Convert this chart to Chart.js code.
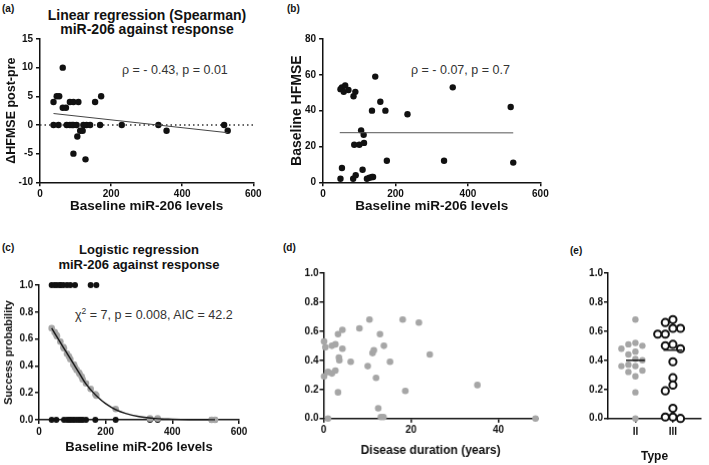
<!DOCTYPE html>
<html>
<head>
<meta charset="utf-8">
<script src="https://cdn.jsdelivr.net/npm/chart.js@4.4.1/dist/chart.umd.min.js"></script>
<style>
  body { margin: 0; width: 709px; height: 465px; background: #fff; position: relative; overflow: hidden;
         font-family: "Liberation Sans", Arial, Helvetica, sans-serif; color: #111; }
  .box { position: absolute; }
  .tag { position: absolute; font-size: 10px; font-weight: bold; line-height: 12px; }
  .ttl { position: absolute; font-weight: bold; text-align: center; white-space: nowrap; transform: translateX(-50%); }
  .note { position: absolute; font-size: 12.5px; line-height: 14px; color: #333; white-space: nowrap; }
  .note sup { font-size: 8.5px; line-height: 0; vertical-align: 5px; }
</style>
</head>
<body>
<div class="tag" style="left:2px;top:3px">(a)</div>
<div class="tag" style="left:287px;top:3px">(b)</div>
<div class="tag" style="left:2px;top:242px">(c)</div>
<div class="tag" style="left:283px;top:242px">(d)</div>
<div class="tag" style="left:570px;top:245px">(e)</div>

<div class="ttl" style="left:147px;top:8px;font-size:14px;line-height:14.3px">Linear regression (Spearman)<br>miR-206 against response</div>
<div class="ttl" style="left:139px;top:243px;font-size:13px;line-height:14.5px">Logistic regression<br>miR-206 against response</div>

<div class="note" style="left:122px;top:63px">ρ = - 0.43, p = 0.01</div>
<div class="note" style="left:411px;top:63px">ρ = - 0.07, p = 0.7</div>
<div class="note" style="left:75px;top:308px">χ<sup>2</sup> = 7, p = 0.008, AIC = 42.2</div>

<div class="box" style="left:0px;top:29px;width:266px;height:187.3px"><canvas id="chartA"></canvas></div>
<div class="box" style="left:284.6px;top:29px;width:267.4px;height:187.3px"><canvas id="chartB"></canvas></div>
<div class="box" style="left:0px;top:275px;width:251px;height:180.8px"><canvas id="chartC"></canvas></div>
<div class="box" style="left:295px;top:263.3px;width:249.7px;height:195.9px"><canvas id="chartD"></canvas></div>
<div class="box" style="left:580px;top:263.3px;width:127px;height:200.9px"><canvas id="chartE"></canvas></div>

<script>
// (a) baseline miR-206 vs change in HFMSE, one entry per patient
const A_X = [38, 47, 54, 64, 64, 73, 84, 94, 108, 155, 172,
             38, 52, 75, 84, 90, 94, 103, 122, 131, 141, 169, 230, 333, 518,
             113, 120, 105, 94, 128, 356, 528];
const A_Y = [4, 5, 5, 10, 3, 3, 4, 4, 4, 4, 5,
             0, 0, 0, 0, 0, 0, 0, 0, 0, 0, 0, 0, 0, 0,
             -1, -1, -2, -5, -6, -1, -1];
const A_FIT_X = [38, 528];
const A_FIT_Y = [2.0, -1.35];

// (b) baseline miR-206 vs baseline HFMSE
const B_X = [48, 52, 57, 61, 70, 84, 89, 144, 158, 135, 172, 233, 358, 518,
             105, 112, 86, 100, 113, 176, 334, 525,
             48, 52, 83, 90, 109, 121, 128, 135, 138];
const B_Y = [52, 53, 50.5, 54, 51.5, 48, 50.5, 59, 45, 40, 40, 38, 53, 42,
             29, 26.5, 21, 21, 22, 12, 12, 11,
             2, 8, 2, 4, 7, 2, 2.5, 3, 3];
const B_FIT_X = [46, 525];
const B_FIT_Y = [27.7, 27.6];

// (c) logistic fit: predicted probability per patient, and the fitted curve
const C_FIT_X = [38, 47, 52, 54, 64, 73, 75, 84, 90, 94, 103, 105, 108, 113, 120, 122,
                 128, 131, 141, 155, 169, 172, 230, 333, 356, 518, 528];
const C_FIT_Y = [0.68, 0.65, 0.63, 0.62, 0.58, 0.54, 0.53, 0.49, 0.47, 0.45, 0.41, 0.41,
                 0.39, 0.37, 0.35, 0.34, 0.32, 0.30, 0.27, 0.23, 0.19, 0.18, 0.08, 0.01, 0.01, 0.0, 0.0];
const CURVE_X = [38, 60, 80, 100, 120, 140, 160, 180, 200, 230, 260, 300, 350, 400, 450, 528];
const CURVE_Y = [0.68, 0.59, 0.51, 0.43, 0.35, 0.27, 0.21, 0.16, 0.12, 0.075, 0.047, 0.024, 0.01, 0.005, 0.002, 0.001];

// (d) disease duration vs success probability
const D_X = [0.1, 0.4, 0.1, 1.0, 1.0, 1.9, 1.9, 2.7, 2.7, 3.3, 3.3, 3.5, 3.6, 4.3, 4.3, 6.2, 8.2,
             10.1, 10.5, 11.2, 11.5, 12.0, 12.5, 12.9, 13.1, 13.7, 13.8, 15.2, 18.1, 18.7, 21.8, 24.3, 35.2, 48.5];
const D_Y = [0.53, 0.49, 0.29, 0.32, 0.0, 0.50, 0.31, 0.51, 0.33, 0.58, 0.18, 0.42, 0.40, 0.61, 0.48, 0.39, 0.62,
             0.36, 0.68, 0.45, 0.47, 0.28, 0.07, 0.58, 0.01, 0.01, 0.50, 0.39, 0.68, 0.19, 0.66, 0.44, 0.23, 0.0];

// (e) success probability by SMA type
const TYPES = ["II", "III"];
const TYPE_II = [0.68, 0.52, 0.51, 0.50, 0.48, 0.46, 0.44, 0.41, 0.40, 0.37, 0.36, 0.36, 0.33, 0.32, 0.29, 0.18, 0.0];
const TYPE_III = [0.68, 0.66, 0.62, 0.62, 0.58, 0.58, 0.51, 0.50, 0.48, 0.39, 0.28, 0.23, 0.19, 0.07, 0.01, 0.01, 0.0];
const MEDIANS = [0.40, 0.47];

const X_TICKS_MIR = [0, 200, 400, 600];
const Y_TICKS_A = [-10, -5, 0, 5, 10, 15];
const Y_TICKS_B = [0, 20, 40, 60, 80];
const P_TICKS = [0, 0.2, 0.4, 0.6, 0.8, 1.0];
const X_TICKS_D = [0, 20, 40];

const INK = "#111";
const GREY = "#a6a6a6";

Chart.defaults.font.family = '"Liberation Sans", Arial, Helvetica, sans-serif';
Chart.defaults.color = INK;
Chart.defaults.animation = false;
Chart.defaults.plugins.legend.display = false;
Chart.defaults.plugins.tooltip.enabled = false;

const pts = (xs, ys) => xs.map((x, i) => ({ x, y: ys[i] }));

// Prism-like axis: only the axis line and outward tick marks, bold labels.
// `size` pins the axis box so the plot area lands where the figure has it.
function axis(o) {
  return {
    type: "linear",
    min: o.min,
    max: o.max,
    afterFit: (s) => { if (s.isHorizontal()) s.height = o.size; else s.width = o.size; },
    afterBuildTicks: (s) => { s.ticks = o.ticks.map((v) => ({ value: v })); },
    grid: { display: true, drawOnChartArea: false, drawTicks: true, tickLength: 4, tickWidth: 1.5, color: INK, lineWidth: 1.5 },
    border: { display: true, color: INK, width: 1.5 },
    ticks: { color: INK, font: { size: 10, weight: "bold" }, padding: o.pad, maxRotation: 0, autoSkip: false,
             callback: o.fmt || ((v) => String(v)) },
    title: o.title
      ? { display: true, text: o.title, color: INK, font: { size: o.titleSize, weight: "bold" }, padding: o.titlePad }
      : { display: false },
  };
}

function dots(data, fill, r, extra) {
  return Object.assign({ data, pointRadius: r, pointBackgroundColor: fill, pointBorderWidth: 0, clip: false }, extra || {});
}

function line(data, color, width, dash) {
  return { data, showLine: true, pointRadius: 0, borderColor: color, borderWidth: width, borderDash: dash || [], clip: false };
}

function makeChart(id, datasets, x, y, padRight, lineOpts) {
  return new Chart(document.getElementById(id), {
    type: "scatter",
    data: { datasets },
    options: {
      responsive: true,
      maintainAspectRatio: false,
      layout: { padding: { top: 10, right: padRight, left: 0, bottom: 0 } },
      elements: { line: lineOpts || {} },
      scales: { x, y },
    },
  });
}

const prob = (v) => v.toFixed(1);

// (a)
makeChart("chartA", [
  line(pts(A_FIT_X, A_FIT_Y), "#444", 1),
  dots(pts(A_X, A_Y), INK, 3.2),
  line([{ x: 0, y: 0 }, { x: 600, y: 0 }], "#333", 1.5, [1.5, 3]),
],
  axis({ min: 0, max: 600, ticks: X_TICKS_MIR, size: 34, pad: 2, title: "Baseline miR-206 levels", titleSize: 13.5, titlePad: 2 }),
  axis({ min: -10, max: 15, ticks: Y_TICKS_A, size: 40, pad: 3, title: "ΔHFMSE post-pre", titleSize: 12.5, titlePad: 4 }),
  12.7);

// (b)
makeChart("chartB", [
  line(pts(B_FIT_X, B_FIT_Y), "#555", 1),
  dots(pts(B_X, B_Y), INK, 3.2),
],
  axis({ min: 0, max: 600, ticks: X_TICKS_MIR, size: 34, pad: 2, title: "Baseline miR-206 levels", titleSize: 13.5, titlePad: 2 }),
  axis({ min: 0, max: 80, ticks: Y_TICKS_B, size: 38.1, pad: 3, title: "Baseline HFMSE", titleSize: 14, titlePad: 4 }),
  12);

// (c) responders (ΔHFMSE > 0) sit at 1, the rest at 0
const responders = pts(A_X, A_Y).filter((p) => p.y > 0).map((p) => ({ x: p.x, y: 1 }));
const nonResponders = pts(A_X, A_Y).filter((p) => p.y <= 0).map((p) => ({ x: p.x, y: 0 }));
makeChart("chartC", [
  line(pts(CURVE_X, CURVE_Y), INK, 1.4),
  dots(pts(C_FIT_X, C_FIT_Y), GREY, 3.3),
  dots(responders, INK, 3),
  dots(nonResponders, INK, 3),
],
  axis({ min: 0, max: 600, ticks: X_TICKS_MIR, size: 36.8, pad: 2, title: "Baseline miR-206 levels", titleSize: 13, titlePad: 2 }),
  axis({ min: 0, max: 1, ticks: P_TICKS, size: 39, pad: 1.7, fmt: prob, title: "Success probability", titleSize: 11, titlePad: 2 }),
  12, { cubicInterpolationMode: "monotone" });

// (d)
makeChart("chartD", [
  dots(pts(D_X, D_Y), GREY, 3.3),
],
  axis({ min: 0, max: 49, ticks: X_TICKS_D, size: 41.2, pad: 2, title: "Disease duration (years)", titleSize: 12, titlePad: 2 }),
  axis({ min: 0, max: 1, ticks: P_TICKS, size: 28.5, pad: 1, fmt: prob }),
  8);

// (e) column scatter; points are spread sideways after layout (beeswarm)
const chartE = makeChart("chartE", [
  line([{ x: 0.75, y: MEDIANS[0] }, { x: 1.25, y: MEDIANS[0] }], INK, 1.5),
  line([{ x: 1.75, y: MEDIANS[1] }, { x: 2.25, y: MEDIANS[1] }], INK, 1.5),
  dots(TYPE_III.map((v) => ({ x: 2, y: v })), "#fff", 3.6, { pointBorderWidth: 2, pointBorderColor: INK }),
  dots(TYPE_II.map((v) => ({ x: 1, y: v })), GREY, 3.2),
],
  axis({ min: 0.269, max: 2.749, ticks: [1, 2], size: 46.2, pad: 4, fmt: (v) => TYPES[v - 1], title: "Type", titleSize: 12, titlePad: 1 }),
  axis({ min: 0, max: 1, ticks: P_TICKS, size: 28, pad: 1, fmt: prob }),
  4);

function swarm(chart, center, values, gap) {
  const xs = chart.scales.x;
  const ys = chart.scales.y;
  const cx = xs.getPixelForValue(center);
  const placed = [];
  const out = new Array(values.length);
  const order = values.map((v, i) => i).sort((p, q) => values[q] - values[p]);
  order.forEach((i) => {
    const py = ys.getPixelForValue(values[i]);
    for (let k = 0; k < 20; k++) {
      const px = cx + (k === 0 ? 0 : (k % 2 ? -1 : 1) * Math.ceil(k / 2) * gap);
      if (placed.every((p) => Math.hypot(p.x - px, p.y - py) >= gap - 0.5)) {
        placed.push({ x: px, y: py });
        out[i] = xs.getValueForPixel(px);
        break;
      }
    }
  });
  return values.map((v, i) => ({ x: out[i], y: v }));
}

chartE.data.datasets[3].data = swarm(chartE, 1, TYPE_II, 7);
chartE.data.datasets[2].data = swarm(chartE, 2, TYPE_III, 7.6);
chartE.update("none");
</script>
</body>
</html>
